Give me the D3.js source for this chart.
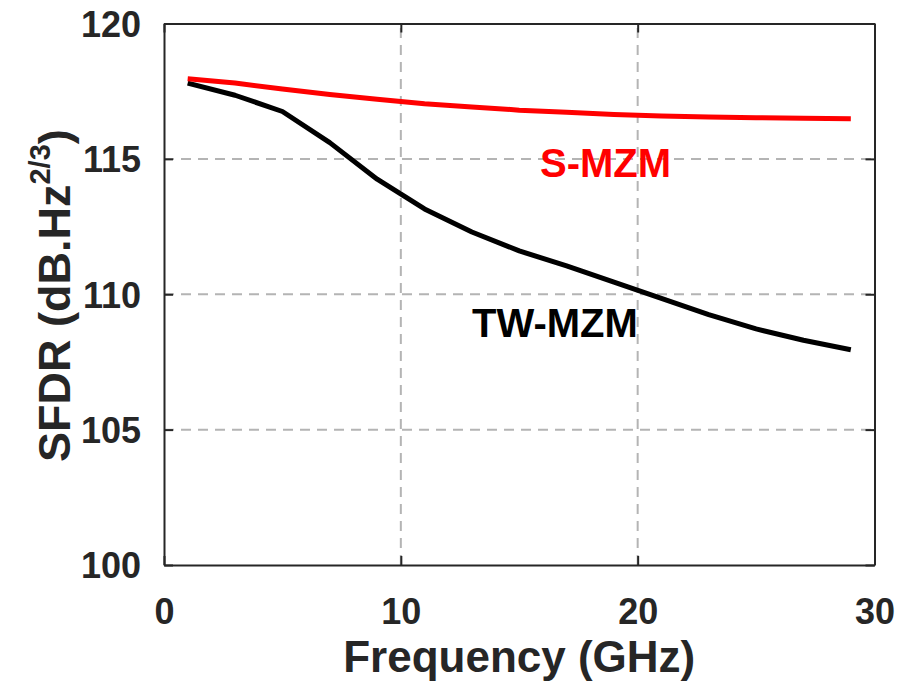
<!DOCTYPE html>
<html><head><meta charset="utf-8">
<script src="https://cdn.jsdelivr.net/npm/d3@7"></script>
<style>html,body{margin:0;padding:0;background:#fff;}svg{display:block;}</style>
</head><body>
<svg id="chart" width="902" height="694"></svg>
<script>
const freq = [1, 3, 5, 7, 9, 11, 13, 15, 17, 19, 21, 23, 25, 27, 29];
const sMZM = [117.96, 117.8, 117.58, 117.38, 117.2, 117.04, 116.92, 116.8, 116.72, 116.64, 116.58, 116.55, 116.52, 116.5, 116.48];
const twMZM = [117.8, 117.35, 116.75, 115.6, 114.25, 113.15, 112.3, 111.6, 111.05, 110.45, 109.85, 109.25, 108.72, 108.3, 107.95];
const xTicks = [0, 10, 20, 30];
const yTicks = [100, 105, 110, 115, 120];
const seriesNames = ["S-MZM", "TW-MZM"];

const svg = d3.select("#chart");
const font = "'Liberation Sans', Arial, Helvetica, sans-serif";
const ink = "#262626";
const x = d3.scaleLinear().domain([0, 30]).range([164, 874.5]);
const y = d3.scaleLinear().domain([100, 120]).range([565, 23.5]);

// grid
const grid = svg.append("g").attr("stroke", "#b4b4b4").attr("stroke-width", 2).attr("stroke-dasharray", "10,7");
grid.selectAll("line.gx").data(xTicks.slice(1, -1)).join("line")
  .attr("x1", d => x(d)).attr("x2", d => x(d)).attr("y1", y(100)).attr("y2", y(120));
grid.selectAll("line.gy").data(yTicks.slice(1, -1)).join("line")
  .attr("y1", d => y(d)).attr("y2", d => y(d)).attr("x1", x(0)).attr("x2", x(30));

// axes with inward ticks
const tl = 9;
const axB = svg.append("g").attr("transform", `translate(0,${y(100)})`)
  .call(d3.axisBottom(x).tickValues(xTicks).tickSizeInner(-tl).tickSizeOuter(0).tickPadding(tl + 24));
const axT = svg.append("g").attr("transform", `translate(0,${y(120)})`)
  .call(d3.axisTop(x).tickValues(xTicks).tickSizeInner(-tl).tickSizeOuter(0).tickFormat(""));
const axL = svg.append("g").attr("transform", `translate(${x(0)},0)`)
  .call(d3.axisLeft(y).tickValues(yTicks).tickSizeInner(-tl).tickSizeOuter(0).tickPadding(tl + 14));
const axR = svg.append("g").attr("transform", `translate(${x(30)},0)`)
  .call(d3.axisRight(y).tickValues(yTicks).tickSizeInner(-tl).tickSizeOuter(0).tickFormat(""));
[axB, axT, axL, axR].forEach(a => {
  a.select(".domain").attr("stroke", ink).attr("stroke-width", 2);
  a.selectAll(".tick line").attr("stroke", ink).attr("stroke-width", 2);
  a.selectAll(".tick text").attr("fill", ink).attr("font-family", font).attr("font-weight", "bold").attr("font-size", 36);
});
axL.selectAll(".tick text").attr("dy", "0.36em");

// lines
const line = d3.line().x((d, i) => x(freq[i])).y(d => y(d)).curve(d3.curveLinear);
svg.append("path").datum(twMZM).attr("d", line).attr("fill", "none").attr("stroke", "#000").attr("stroke-width", 5).attr("stroke-linejoin", "round");
svg.append("path").datum(sMZM).attr("d", line).attr("fill", "none").attr("stroke", "#ff0000").attr("stroke-width", 5).attr("stroke-linejoin", "round");

// labels
svg.append("text").attr("x", 540).attr("y", 177).attr("font-family", font).attr("font-weight", "bold")
  .attr("font-size", 40).attr("fill", "#ff0000").text(seriesNames[0]);
svg.append("text").attr("x", 472).attr("y", 337).attr("font-family", font).attr("font-weight", "bold")
  .attr("font-size", 40).attr("fill", "#000").text(seriesNames[1]);

// axis titles
svg.append("text").attr("x", (x(0) + x(30)) / 2).attr("y", 672).attr("text-anchor", "middle")
  .attr("font-family", font).attr("font-weight", "bold").attr("font-size", 44).attr("fill", ink)
  .text("Frequency (GHz)");
const yt = svg.append("text").attr("transform", "translate(70,462) rotate(-90)")
  .attr("font-family", font).attr("font-weight", "bold").attr("font-size", 45).attr("fill", ink);
yt.append("tspan").text("SFDR (dB.Hz");
yt.append("tspan").attr("font-size", 29).attr("dy", -20).text("2/3");
yt.append("tspan").attr("dy", 20).text(")");
</script>
</body></html>
